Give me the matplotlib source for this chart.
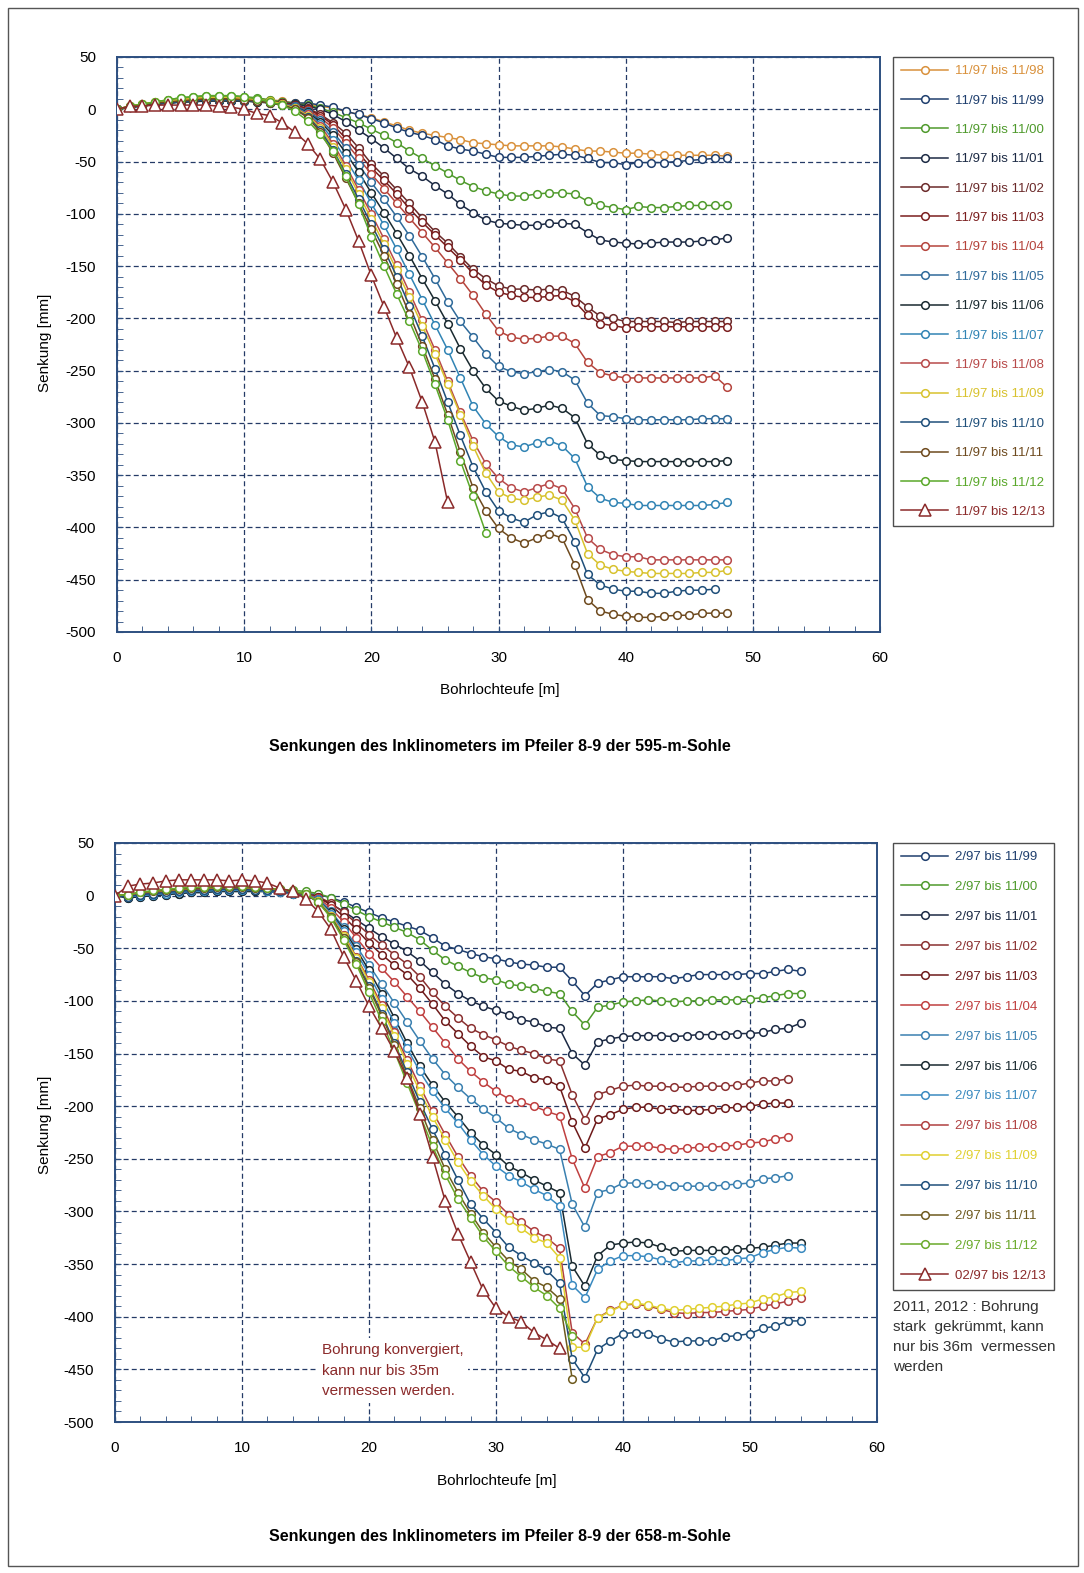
import numpy as np
import matplotlib.pyplot as plt
from matplotlib.patches import Rectangle
from matplotlib.ticker import MultipleLocator

plt.rcParams['font.family'] = ['Liberation Sans', 'DejaVu Sans']
plt.rcParams['axes.unicode_minus'] = False

W, H = 1084, 1573

# Senkungen [mm] 595-m-Sohle, ein Wert je Meter Bohrlochteufe ab 0 m
t_9811 = [0, 3, 5, 7, 9, 10, 11, 12, 12, 12, 11, 10, 9, 8, 6, 5, 3, 1, -2, -5, -8, -12, -16, -20, -23, -25, -27, -29, -32, -33, -34, -35, -35, -35, -35, -36, -38, -40, -40, -41, -42, -42, -43, -44, -44, -44, -44, -44, -45]
t_9911 = [0, 2, 4, 5, 6, 7, 8, 8, 9, 9, 8, 8, 7, 7, 6, 6, 4, 2, -2, -5, -9, -13, -18, -22, -25, -29, -35, -38, -40, -43, -46, -46, -46, -45, -44, -43, -44, -47, -51, -51, -53, -51, -51, -51, -50, -49, -48, -47, -47]
t_0011 = [0, 3, 5, 7, 9, 11, 12, 13, 13, 13, 12, 11, 9, 7, 5, 4, 1, -3, -8, -13, -19, -25, -32, -40, -47, -54, -61, -68, -74, -78, -81, -83, -83, -81, -80, -80, -81, -88, -92, -94, -96, -93, -94, -94, -93, -92, -92, -92, -92]
t_0111 = [0, 2, 3, 5, 6, 7, 8, 8, 8, 8, 8, 7, 7, 6, 5, 3, 0, -5, -12, -20, -28, -37, -47, -57, -64, -73, -81, -91, -99, -106, -109, -110, -111, -111, -109, -109, -110, -118, -125, -127, -128, -129, -128, -127, -127, -127, -126, -125, -123]
t_0211 = [0, 2, 4, 5, 6, 7, 8, 9, 9, 9, 8, 8, 7, 6, 4, 1, -5, -13, -23, -37, -52, -64, -77, -90, -104, -117, -128, -141, -153, -162, -169, -172, -172, -173, -172, -173, -179, -189, -198, -200, -203, -203, -203, -203, -204, -203, -203, -203, -203]
t_0311 = [0, 2, 4, 6, 7, 8, 9, 9, 9, 9, 9, 8, 7, 6, 4, 0, -6, -15, -28, -42, -56, -68, -81, -95, -108, -120, -132, -144, -157, -168, -175, -178, -180, -180, -179, -178, -184, -197, -205, -207, -209, -208, -208, -208, -208, -208, -208, -208, -208]
t_0411 = [0, 2, 4, 6, 7, 8, 9, 10, 10, 10, 9, 8, 7, 5, 3, -1, -8, -18, -32, -47, -62, -76, -90, -104, -118, -132, -147, -162, -178, -196, -212, -218, -220, -219, -217, -217, -224, -242, -252, -255, -257, -257, -257, -257, -257, -257, -257, -255, -266]
t_0511 = [0, 2, 3, 5, 6, 7, 8, 8, 9, 9, 8, 8, 7, 5, 3, -2, -10, -22, -37, -53, -70, -86, -103, -121, -141, -162, -184, -203, -218, -234, -246, -251, -253, -251, -249, -251, -259, -281, -293, -294, -296, -297, -297, -297, -297, -297, -296, -296, -296]
t_0611 = [0, 2, 3, 5, 6, 7, 7, 8, 8, 8, 8, 7, 6, 5, 2, -3, -12, -25, -42, -60, -80, -99, -119, -140, -162, -183, -205, -229, -250, -267, -279, -284, -288, -286, -283, -286, -295, -320, -331, -335, -336, -337, -337, -337, -337, -337, -337, -337, -336]
t_0711 = [0, 2, 4, 5, 7, 8, 8, 9, 9, 9, 9, 8, 7, 5, 2, -4, -14, -29, -48, -68, -90, -111, -134, -158, -182, -206, -230, -257, -284, -301, -313, -321, -323, -319, -317, -322, -334, -361, -372, -376, -377, -379, -379, -379, -379, -379, -379, -378, -376]
t_0811 = [0, 2, 4, 6, 7, 8, 9, 10, 10, 10, 9, 8, 7, 5, 1, -5, -16, -33, -54, -77, -100, -124, -149, -175, -202, -230, -260, -290, -317, -339, -353, -362, -366, -362, -358, -363, -382, -410, -421, -426, -428, -428, -431, -431, -431, -431, -431, -431, -431]
t_0911 = [0, 3, 5, 7, 8, 9, 10, 11, 11, 11, 10, 9, 8, 5, 1, -6, -18, -36, -57, -81, -105, -129, -154, -180, -207, -234, -263, -292, -322, -348, -366, -372, -374, -371, -369, -374, -393, -425, -436, -440, -442, -443, -444, -444, -444, -444, -443, -443, -441]
t_1011 = [0, 2, 4, 5, 6, 7, 8, 9, 9, 9, 8, 8, 6, 4, 0, -7, -20, -39, -62, -86, -110, -134, -160, -188, -217, -248, -280, -312, -342, -366, -384, -391, -395, -388, -385, -391, -414, -445, -455, -459, -461, -461, -463, -463, -461, -460, -460, -459]
t_1111 = [0, 2, 4, 6, 7, 8, 9, 10, 10, 10, 9, 8, 6, 4, 0, -8, -22, -42, -66, -90, -115, -140, -167, -196, -226, -258, -292, -328, -362, -384, -401, -410, -415, -410, -406, -410, -436, -469, -480, -483, -485, -486, -486, -485, -484, -484, -482, -482, -482]
t_1211 = [0, 3, 5, 7, 9, 11, 12, 13, 13, 13, 12, 10, 7, 4, -2, -11, -24, -40, -64, -91, -122, -150, -177, -203, -231, -263, -297, -336, -370, -405]
t_1312 = [0, 3, 3, 4, 4, 4, 4, 4, 3, 2, 0, -4, -6, -13, -22, -33, -48, -70, -96, -126, -159, -189, -219, -247, -280, -318, -376]

# Senkungen [mm] 658-m-Sohle
b_9911 = [0, -2, -1, 0, 1, 2, 3, 3, 4, 4, 4, 4, 4, 3, 3, 2, 1, -2, -6, -11, -16, -21, -25, -29, -33, -40, -48, -51, -55, -58, -60, -63, -65, -66, -68, -68, -81, -95, -83, -80, -77, -77, -77, -77, -79, -77, -75, -75, -75, -75, -74, -74, -72, -70, -72]
b_0011 = [0, 1, 3, 4, 5, 6, 7, 7, 8, 8, 8, 7, 7, 6, 5, 4, 2, -2, -8, -14, -20, -25, -30, -35, -42, -52, -61, -67, -73, -78, -80, -84, -86, -88, -91, -93, -110, -123, -106, -104, -101, -100, -99, -100, -101, -100, -100, -99, -99, -99, -98, -97, -95, -93, -93]
b_0111 = [0, -1, 0, 1, 2, 3, 4, 4, 5, 5, 5, 5, 4, 4, 3, 1, -2, -8, -15, -23, -31, -39, -46, -53, -62, -73, -84, -93, -100, -105, -109, -113, -118, -120, -125, -126, -150, -161, -139, -136, -134, -133, -133, -133, -134, -133, -132, -132, -132, -131, -131, -130, -127, -126, -121]
b_0211 = [0, -1, 1, 2, 3, 4, 5, 5, 6, 6, 6, 6, 5, 4, 3, 2, -1, -7, -16, -26, -37, -47, -56, -65, -77, -92, -105, -116, -126, -132, -137, -143, -147, -150, -155, -157, -189, -213, -189, -185, -181, -180, -181, -181, -182, -182, -181, -181, -181, -180, -178, -176, -176, -174]
b_0311 = [0, -1, 0, 1, 2, 3, 4, 4, 5, 5, 5, 5, 4, 3, 2, 1, -1, -9, -20, -32, -45, -56, -66, -75, -88, -103, -119, -131, -143, -153, -157, -165, -167, -173, -175, -181, -215, -240, -212, -208, -203, -201, -201, -203, -203, -204, -204, -203, -202, -201, -200, -198, -197, -197]
b_0411 = [0, -1, 1, 2, 3, 4, 5, 5, 5, 6, 6, 5, 5, 4, 3, 1, -2, -12, -25, -40, -55, -69, -82, -96, -110, -125, -140, -155, -167, -177, -186, -193, -196, -200, -205, -209, -250, -278, -248, -244, -238, -238, -238, -240, -241, -240, -239, -239, -238, -237, -235, -234, -231, -229]
b_0511 = [0, -1, 0, 1, 2, 3, 4, 4, 5, 5, 5, 5, 4, 3, 2, 1, -3, -15, -30, -48, -66, -84, -102, -120, -138, -155, -170, -182, -193, -203, -211, -221, -227, -232, -236, -241, -293, -315, -282, -279, -273, -273, -274, -275, -276, -276, -276, -276, -275, -274, -273, -269, -268, -266]
b_0611 = [0, -2, -1, 0, 1, 2, 3, 3, 4, 4, 4, 4, 4, 3, 2, 0, -4, -16, -32, -51, -71, -93, -116, -140, -162, -180, -196, -210, -225, -237, -246, -257, -263, -270, -276, -282, -352, -371, -342, -332, -330, -329, -330, -334, -338, -337, -337, -337, -337, -336, -335, -334, -332, -330, -330]
b_0711 = [0, -1, 0, 1, 2, 3, 4, 4, 5, 5, 5, 5, 4, 3, 2, 0, -4, -17, -34, -54, -75, -98, -121, -145, -167, -186, -202, -216, -232, -246, -257, -266, -272, -279, -285, -295, -370, -382, -355, -347, -342, -342, -343, -346, -349, -347, -347, -346, -347, -345, -344, -339, -336, -334, -335]
b_0811 = [0, 0, 2, 3, 4, 5, 6, 6, 7, 7, 7, 6, 6, 5, 3, 1, -5, -19, -37, -58, -80, -104, -130, -156, -181, -205, -227, -248, -266, -281, -291, -303, -310, -319, -325, -335, -415, -426, -401, -394, -389, -388, -390, -393, -396, -397, -396, -396, -395, -394, -393, -390, -388, -385, -382]
b_0911 = [0, 1, 3, 4, 5, 6, 7, 7, 8, 8, 8, 7, 6, 5, 4, 1, -5, -19, -38, -59, -82, -107, -133, -160, -186, -210, -232, -253, -271, -285, -298, -308, -316, -325, -330, -344, -429, -429, -401, -395, -389, -387, -389, -392, -394, -393, -392, -391, -390, -388, -387, -383, -381, -377, -376]
b_1011 = [0, -1, 1, 2, 3, 4, 5, 5, 6, 6, 6, 5, 5, 4, 3, 1, -6, -20, -40, -62, -86, -112, -140, -168, -196, -222, -246, -270, -293, -307, -320, -334, -342, -349, -356, -368, -440, -458, -431, -423, -416, -415, -416, -421, -424, -423, -423, -423, -419, -418, -416, -411, -409, -404, -404]
b_1111 = [0, 1, 3, 4, 5, 6, 7, 7, 8, 8, 8, 7, 7, 6, 4, 1, -6, -20, -40, -63, -88, -114, -142, -172, -202, -232, -260, -282, -302, -320, -334, -347, -355, -366, -372, -383, -459]
b_1211 = [0, 1, 3, 5, 6, 7, 8, 8, 9, 9, 9, 8, 7, 6, 4, 2, -6, -21, -42, -65, -92, -119, -148, -178, -208, -238, -265, -288, -306, -324, -338, -352, -362, -372, -380, -392, -418]
b_1312 = [0, 9, 11, 12, 14, 15, 15, 15, 15, 14, 15, 14, 12, 7, 4, -3, -15, -32, -58, -81, -105, -126, -148, -173, -207, -248, -290, -321, -348, -375, -392, -400, -405, -415, -422, -430]

labels_595 = ['11/97 bis 11/98', '11/97 bis 11/99', '11/97 bis 11/00', '11/97 bis 11/01',
              '11/97 bis 11/02', '11/97 bis 11/03', '11/97 bis 11/04', '11/97 bis 11/05',
              '11/97 bis 11/06', '11/97 bis 11/07', '11/97 bis 11/08', '11/97 bis 11/09',
              '11/97 bis 11/10', '11/97 bis 11/11', '11/97 bis 11/12', '11/97 bis 12/13']
labels_658 = ['2/97 bis 11/99', '2/97 bis 11/00', '2/97 bis 11/01', '2/97 bis 11/02',
              '2/97 bis 11/03', '2/97 bis 11/04', '2/97 bis 11/05', '2/97 bis 11/06',
              '2/97 bis 11/07', '2/97 bis 11/08', '2/97 bis 11/09', '2/97 bis 11/10',
              '2/97 bis 11/11', '2/97 bis 11/12', '02/97 bis 12/13']

colors_595 = ['#d9913c', '#1f3f6e', '#4f9a2c', '#1c2a44', '#6b2a2a', '#7a1e1e', '#b5443c', '#2f6a9a',
              '#1a2a30', '#3184b4', '#b84a4a', '#d8c22e', '#1f4f7a', '#6e4a1e', '#5aa82a', '#8b2a2a']
colors_658 = ['#1f3f6e', '#4f9a2c', '#1c2a44', '#8a3030', '#6e1a1a', '#c04040', '#3a80b0', '#1a2a30',
              '#3a8ac0', '#b04040', '#e0d030', '#1f4f7a', '#6e5a1e', '#6aaa2a', '#8b2a2a']

series_595 = [t_9811, t_9911, t_0011, t_0111, t_0211, t_0311, t_0411, t_0511,
              t_0611, t_0711, t_0811, t_0911, t_1011, t_1111, t_1211, t_1312]
series_658 = [b_9911, b_0011, b_0111, b_0211, b_0311, b_0411, b_0511, b_0611,
              b_0711, b_0811, b_0911, b_1011, b_1111, b_1211, b_1312]


def fx(px):
    return px / W


def fy(py):
    return 1 - py / H


def panel(rect, series, labels, colors, leg_top, spacing):
    ax = fig.add_axes(rect)
    for i, (y, lab, col) in enumerate(zip(series, labels, colors)):
        x = np.arange(len(y))
        last = i == len(series) - 1
        ax.plot(x, y, color=col, lw=1.1, marker='^' if last else 'o',
                ms=8 if last else 5.5, mfc='white', mec=col, mew=1.1,
                label=lab, zorder=3 + i * 0.01)
    ax.set_xlim(0, 60)
    ax.set_ylim(-500, 50)
    ax.set_xticks(np.arange(0, 61, 10))
    ax.set_yticks(np.arange(-500, 51, 50))
    ax.xaxis.set_minor_locator(MultipleLocator(2))
    ax.yaxis.set_minor_locator(MultipleLocator(10))
    ax.tick_params(which='both', direction='in', length=4, color='#2d4f80',
                   top=False, right=False)
    ax.tick_params(axis='y', labelsize=11, pad=15)
    ax.tick_params(axis='x', labelsize=11, pad=14)
    ax.grid(which='major', color='#243a66', linestyle=(0, (4, 2.5)), linewidth=0.9)
    for sp in ax.spines.values():
        sp.set_color('#2d4f80')
        sp.set_linewidth(1.4)
    leg = ax.legend(loc='upper left', bbox_to_anchor=(fx(893), fy(leg_top)),
                    bbox_transform=fig.transFigure, borderaxespad=0,
                    fontsize=9.5, handlelength=3.6, handletextpad=0.5,
                    labelspacing=spacing, borderpad=0.6, frameon=True, fancybox=False)
    leg.get_frame().set_edgecolor('#222222')
    leg.get_frame().set_linewidth(1.0)
    for txt, col in zip(leg.get_texts(), colors):
        txt.set_color(col)
    return ax


fig = plt.figure(figsize=(W / 100, H / 100), dpi=100)

ax1 = panel([fx(117), fy(632), (880 - 117) / W, (632 - 57) / H],
            series_595, labels_595, colors_595, 57, 1.3)
ax2 = panel([fx(115), fy(1422), (877 - 115) / W, (1422 - 843) / H],
            series_658, labels_658, colors_658, 843, 1.34)

fig.text(fx(45), fy(343), 'Senkung [mm]', rotation=90, ha='center', va='center', fontsize=11)
fig.text(fx(45), fy(1125), 'Senkung [mm]', rotation=90, ha='center', va='center', fontsize=11)
fig.text(fx(500), fy(690), 'Bohrlochteufe [m]', ha='center', va='center', fontsize=11)
fig.text(fx(497), fy(1481), 'Bohrlochteufe [m]', ha='center', va='center', fontsize=11)
fig.text(fx(500), fy(746), 'Senkungen des Inklinometers im Pfeiler 8-9 der 595-m-Sohle',
         ha='center', va='center', fontsize=11.5, fontweight='bold')
fig.text(fx(500), fy(1537), 'Senkungen des Inklinometers im Pfeiler 8-9 der 658-m-Sohle',
         ha='center', va='center', fontsize=11.5, fontweight='bold')

ax2.text(fx(322), fy(1343), 'Bohrung konvergiert,\nkann nur bis 35m\nvermessen werden.',
         transform=fig.transFigure, ha='left', va='top', fontsize=11, color='#8b2a2a',
         linespacing=1.6, zorder=5,
         bbox=dict(boxstyle='square,pad=0.3', facecolor='white', edgecolor='none'))
fig.text(fx(893), fy(1300), '2011, 2012 : Bohrung\nstark  gekrümmt, kann\nnur bis 36m  vermessen\nwerden',
         ha='left', va='top', fontsize=11, color='#333333', linespacing=1.55)

fig.add_artist(Rectangle((fx(8), fy(1566)), (1078 - 8) / W, (1566 - 8) / H,
                         transform=fig.transFigure, fill=False, edgecolor='#555555', lw=1.0))

fig.savefig('out.png', dpi=100)
